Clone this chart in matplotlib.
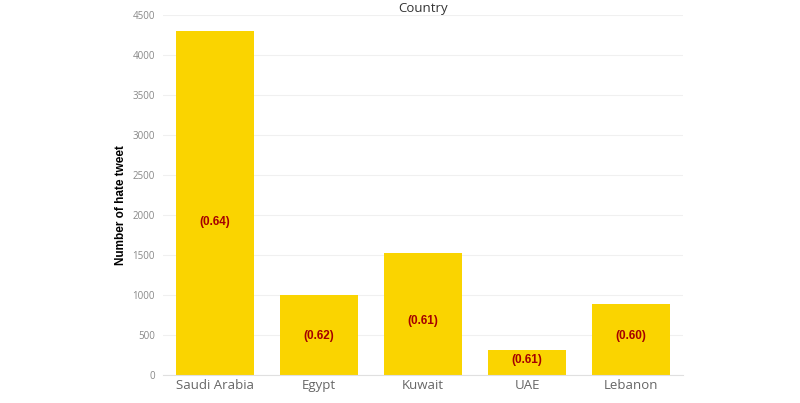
import matplotlib
matplotlib.use("Agg")
import matplotlib.pyplot as plt

# Hate tweets per country with score labels
countries = ["Saudi Arabia", "Egypt", "Kuwait", "UAE", "Lebanon"]
hate_counts = [4300, 990, 1520, 307, 882]
scores = ["(0.64)", "(0.62)", "(0.61)", "(0.61)", "(0.60)"]
label_y = [1910, 480, 670, 180, 480]
y_ticks = [0, 500, 1000, 1500, 2000, 2500, 3000, 3500, 4000, 4500]

fig = plt.figure(figsize=(8, 4.03), dpi=100)
ax = fig.add_axes([0.204, 0.0705, 0.65, 0.893])

x = list(range(len(countries)))
ax.bar(x, hate_counts, width=0.75, color="#FAD400", zorder=2)

for xi, yi, s in zip(x, label_y, scores):
    ax.text(xi, yi, s, ha="center", va="center", color="#A50000",
            fontsize=8.5, fontweight="bold", family="Liberation Sans", zorder=3)

ax.set_xlim(-0.5, 4.5)
ax.set_ylim(0, 4500)
ax.set_yticks(y_ticks)
ax.set_xticks(x)
ax.set_xticklabels(countries, fontsize=9.5, color="#666666", family="Open Sans")
for lbl in ax.get_yticklabels():
    lbl.set_family("Open Sans")
ax.tick_params(axis="y", labelsize=7, colors="#888888", length=0, pad=6)
ax.tick_params(axis="x", length=0, pad=3)
ax.grid(axis="y", color="#F0F0F0", linewidth=0.8, zorder=0)
for side in ["top", "right", "left"]:
    ax.spines[side].set_visible(False)
ax.spines["bottom"].set_color("#E0E0E0")

ax.set_ylabel("Number of hate tweet", fontsize=8.5, fontweight="bold",
              family="Liberation Sans")
ax.yaxis.set_label_coords(-0.069, 0.47)
ax.set_title("Country", fontsize=9.5, color="#333333", pad=1, family="Open Sans")

fig.savefig("out.png", dpi=100)
